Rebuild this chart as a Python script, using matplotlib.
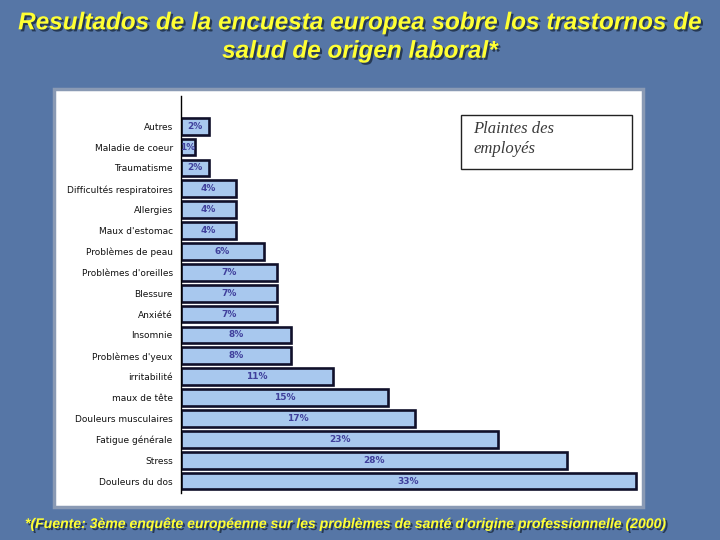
import matplotlib.pyplot as plt
from matplotlib.patches import Rectangle
import matplotlib.patheffects as pe

categories = ["Autres", "Maladie de coeur", "Traumatisme", "Difficultés respiratoires",
              "Allergies", "Maux d'estomac", "Problèmes de peau", "Problèmes d'oreilles",
              "Blessure", "Anxiété", "Insomnie", "Problèmes d'yeux", "irritabilité",
              "maux de tête", "Douleurs musculaires", "Fatigue générale", "Stress",
              "Douleurs du dos"]
values = [2, 1, 2, 4, 4, 4, 6, 7, 7, 7, 8, 8, 11, 15, 17, 23, 28, 33]

title = "Resultados de la encuesta europea sobre los trastornos de\nsalud de origen laboral*"
note = "*(Fuente: 3ème enquête européenne sur les problèmes de santé d'origine professionnelle (2000)"
legend_text = "Plaintes des\nemployés"

bg = "#5676a6"
yellow = "#ffff33"

fig = plt.figure(figsize=(7.2, 5.4), dpi=100)
fig.patch.set_facecolor(bg)

# white panel behind the chart
fig.patches.append(Rectangle((0.075, 0.061), 0.818, 0.774, transform=fig.transFigure,
                             facecolor="white", edgecolor="#8a9ab4", lw=2.5, zorder=-1))

n = len(categories)
ax = fig.add_axes([0.2514, 0.087, 0.6375, 0.735])
ax.set_facecolor("none")
pos = list(range(n))
ax.barh(pos, values, height=0.8, color="#a8c8ee", edgecolor="#10102a", lw=1.9)
for p, v in zip(pos, values):
    ax.text(v / 2, p, f"{v}%", ha="center", va="center", fontsize=6.5,
            color="#40409c", fontweight="bold")
ax.set_yticks(pos)
ax.set_yticklabels(categories, fontsize=6.5, color="#111111")
ax.tick_params(axis="y", length=0, pad=6)
ax.set_xticks([])
ax.set_xlim(0, 33.3)
ax.set_ylim(n - 1 + 0.57, -1.44)
for s in ["top", "right", "bottom"]:
    ax.spines[s].set_visible(False)
ax.spines["left"].set_linewidth(1)

# legend-like text box
fig.patches.append(Rectangle((461 / 720, 1 - 169 / 540), 171 / 720, 54 / 540,
                             transform=fig.transFigure, facecolor="white",
                             edgecolor="#222222", lw=1, zorder=3))
fig.text(473 / 720, 1 - 121 / 540, legend_text, fontsize=12, family="Liberation Serif",
         style="italic", color="#3a3a3a", va="top", ha="left", linespacing=1.3, zorder=4)

shadow = [pe.withSimplePatchShadow(offset=(1.5, -1.5), shadow_rgbFace="#1a2a40", alpha=0.8)]
fig.text(0.5, 1 - 37 / 540, title, ha="center", va="center", fontsize=17.5,
         family="Liberation Sans", style="italic", fontweight="bold", color=yellow,
         linespacing=1.3, path_effects=shadow)
fig.text(25 / 720, 1 - 524 / 540, note, ha="left", va="center", fontsize=10.1,
         family="Liberation Sans", style="italic", fontweight="bold", color=yellow,
         path_effects=shadow)

fig.savefig("out.png", dpi=100, facecolor=fig.get_facecolor())
